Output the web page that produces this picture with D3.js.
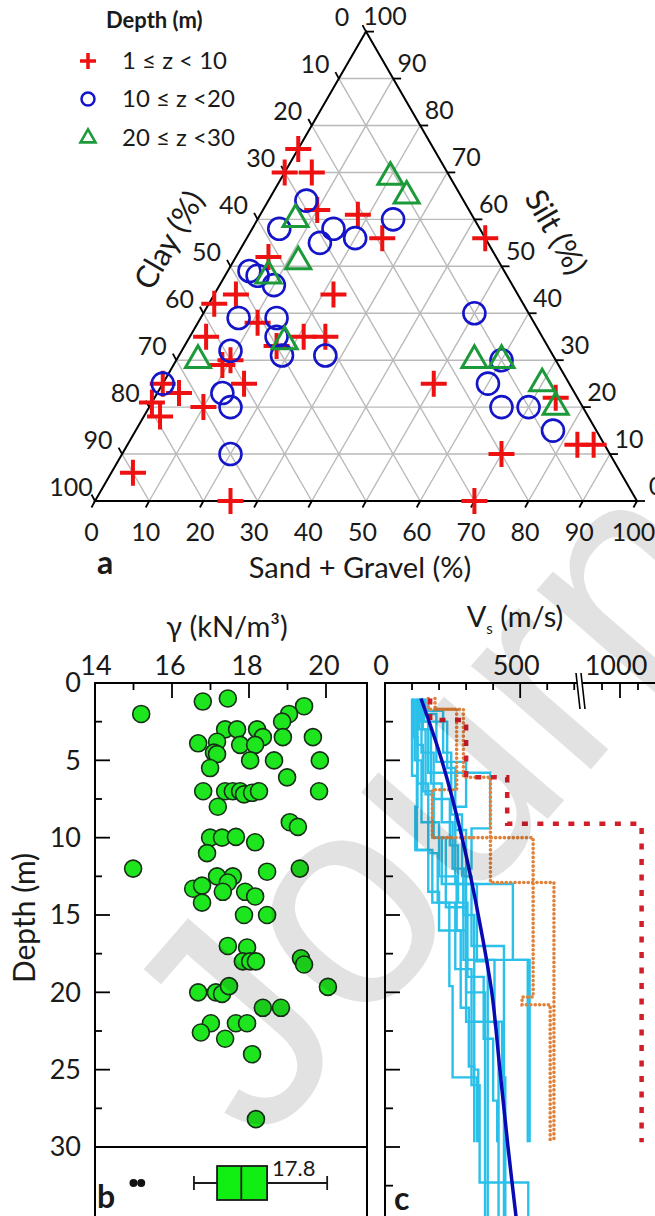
<!DOCTYPE html>
<html>
<head>
<meta charset="utf-8">
<script src="https://cdn.jsdelivr.net/npm/d3@7"></script>
<style>
  body { margin: 0; background: #fff; }
  svg { display: block; }
  text { font-family: Lato, "Open Sans", sans-serif; fill: #1a1a1a; }
</style>
</head>
<body>
<div id="container"></div>
<script>
'use strict'

// ---------- data ----------
// panel a: [sand+gravel, silt, clay] in %
const depthClasses = ['1 \u2264 z < 10', '10 \u2264 z <20', '20 \u2264 z <30'];
const shallowPts = [
  [0,75,25],[0,70,30],[5,70,25],[10,62,28],[18,61,21],[25,56,19],[44,56,0],[6,52,42],
  [22,44,34],[4,44,52],[1,42,57],[11,38,51],[3,35,62],[21,35,44],[25,35,40],[17,33,50],
  [9,29,62],[10,30,60],[15,25,60],[0,25,75],[4,23,73],[0,21,79],[3,18,79],[10,20,70],
  [4,6,90],[25,0,75],[50,25,25],[74,22,4],[70,10,20],[83,12,5],[86,12,2],[70,0,30]
];
const midPts = [
  [7,64,29],[5,58,37],[15,58,27],[14,55,31],[20,56,24],[25,60,15],[4,49,47],[6,48,46],
  [10,46,44],[7,39,54],[14,39,47],[16,35,49],[19,31,50],[9,32,59],[27,31,42],[0,25,75],
  [12,23,65],[15,20,65],[20,10,70],[50,40,10],[60,30,10],[60,25,15],[65,20,15],[70,20,10],[77,15,8]
];
const deepPts = [
  [20,69,11],[25,65,10],[7,60,33],[12,51,37],[8,48,44],[18,34,48],[4,30,66],
  [55,30,15],[60,30,10],[70,25,5],[75,20,5]
];
const ternTicks = [0,10,20,30,40,50,60,70,80,90,100];

// panel b: [unit weight kN/m3, depth m]
const unitWeight = [
  [16.8,1.2],[17.45,1.0],[15.2,2.0],[19.43,1.5],[19.04,2.0],[18.86,2.5],[17.38,3.0],[17.69,3.0],
  [18.21,3.0],[18.36,3.5],[18.88,3.5],[19.66,3.5],[16.68,3.9],[17.17,3.8],[17.77,4.0],[18.16,4.0],
  [17.09,4.5],[17.17,4.6],[18.03,5.0],[18.65,5.0],[19.84,5.0],[16.99,5.5],[18.99,6.1],[16.81,7.0],
  [17.38,7.0],[17.58,7.0],[17.77,7.0],[17.87,7.2],[18.08,7.1],[18.26,7.0],[19.82,7.0],[17.19,8.0],
  [19.06,9.0],[19.27,9.3],[16.99,10.0],[17.3,10.0],[17.66,9.95],[18.16,10.3],[16.91,11.0],[14.99,12.0],
  [19.32,12.0],[18.47,12.2],[17.17,12.5],[17.58,12.5],[16.55,13.3],[16.78,13.1],[17.45,12.9],[17.32,13.5],
  [17.9,13.5],[18.16,13.8],[16.78,14.2],[17.87,15.0],[18.47,15.0],[17.45,17.0],[17.95,17.1],[17.84,18.0],
  [18.03,18.0],[18.18,18.0],[19.35,17.8],[19.43,18.2],[16.68,20.0],[17.14,20.0],[17.3,20.1],[17.48,19.6],
  [20.05,19.65],[18.36,21.0],[18.83,21.0],[17.01,22.0],[16.75,22.6],[17.66,22.0],[17.95,22.0],[17.38,23.0],
  [18.08,24.0],[18.18,28.2]
];
const boxStats = [16.57, 17.17, 17.8, 18.47, 20.03];   // whisker, q1, median, q3, whisker
const boxOutliers = [15.0, 15.2];
const gammaTicks = [15,16,17,18,19,20];
const gammaLabels = [14,16,18,20];
const depthTicks = [0,2.5,5,7.5,10,12.5,15,17.5,20,22.5,25,27.5,30];
const depthLabels = [0,5,10,15,20,25,30];

// panel c: step profiles, each layer [Vs m/s, bottom depth m], top at 1 m
const cyanProfiles = [
  [[105,3.5],[120,8.0],[112,10.8],[175,14.2],[238,19.6],[250,25.5],[340,29.7]],
  [[130,2.5],[160,5.8],[389,9.4],[320,12],[290,17.9],[535,29.7]],
  [[150,2],[190,5.1],[300,8],[260,13],[473,17.9],[528,29.7]],
  [[118,4],[140,7],[175,10],[225,14.5],[300,21.9],[330,25],[345,29.7]],
  [[140,3],[170,6.5],[210,9],[250,12],[290,15],[330,18],[380,32.3],[530,36]],
  [[110,5],[135,9],[200,12.5],[265,16],[300,20],[370,36]],
  [[160,1.8],[215,4.5],[245,8.5],[285,12.5],[320,17],[440,36]],
  [[125,3],[150,7.2],[180,10],[210,13],[300,17.9],[330,21.9],[433,25.5],[445,36]],
  [[100,6],[118,10.8],[160,13.5],[200,16],[280,21],[310,24.8],[330,29.7]],
  [[135,4.5],[180,7.5],[240,10.5],[270,14.2],[305,19],[365,23],[400,27],[415,29.7]],
  [[145,2.5],[230,5.5],[260,9.5],[300,13],[340,17.9],[405,22],[420,36]],
  [[120,6.5],[160,11],[195,14.2],[260,18.5],[320,26],[350,32.3],[380,36]]
];
const orangeProfiles = [
  [[185,1.7],[290,6.1],[390,12.9],[625,29.7]],
  [[160,1.7],[265,6.9],[175,10.0],[548,20.3],[507,20.8],[611,29.7]]
];
const redProfile = [[167,2.4],[300,6.1],[452,9.1],[1120,29.7]];
const vsTrend = [[133,1],[210,5],[285,10],[345,15],[395,20],[425,25],[455,30],[488,35]];
const vsTicks = [100,200,300,400,500,600,700,900,1000,1100];
const vsLabels = [0,500,1000];

// ---------- svg ----------
const W = 655, H = 1216;
const svg = d3.select('#container').append('svg').attr('width', W).attr('height', H);

// ===== a: ternary =====
const side = 542, triH = side * Math.sqrt(3) / 2;
const tx = d3.scaleLinear().domain([0, 100]).range([95, 95 + side]);
const ty = d3.scaleLinear().domain([0, 100]).range([501, 501 - triH]);
const tern = (s, t) => [tx(s + t / 2), ty(t)];

const seg = (g, a, b) => g.append('line').attr('x1', a[0]).attr('y1', a[1]).attr('x2', b[0]).attr('y2', b[1]);

const grid = svg.append('g').attr('stroke', '#b9b9b9').attr('stroke-width', 1.4);
ternTicks.filter(v => v > 0 && v < 100).forEach(v => {
  seg(grid, tern(0, v), tern(100 - v, v));       // silt
  seg(grid, tern(v, 0), tern(v, 100 - v));       // sand
  seg(grid, tern(100 - v, 0), tern(0, 100 - v)); // clay
});

svg.append('path')
   .attr('d', 'M' + [tern(0, 0), tern(100, 0), tern(0, 100)].join('L') + 'Z')
   .attr('fill', 'none').attr('stroke', '#000').attr('stroke-width', 2);

const axT = svg.append('g').attr('stroke', '#000').attr('stroke-width', 1.8);
const axL = svg.append('g').style('font-size', '25px').attr('text-anchor', 'middle');
ternTicks.forEach(v => {
  // bottom: sand + gravel
  let p = tern(v, 0);
  seg(axT, p, [p[0] - 3.5, p[1] + 6.5]);
  axL.append('text').attr('x', p[0] - 3.5).attr('y', p[1] + 31).attr('dy', '0.35em').text(v);
  // left: clay
  p = tern(0, 100 - v);
  seg(axT, p, [p[0] - 3.5, p[1] - 6.5]);
  axL.append('text').attr('x', p[0] - 24).attr('y', p[1] - 14).attr('dy', '0.35em').text(v);
  // right: silt
  p = tern(100 - v, v);
  seg(axT, p, [p[0] + 8, p[1]]);
  axL.append('text').attr('x', p[0] + 19).attr('y', p[1] - 15).attr('dy', '0.35em').text(v);
});

svg.append('text').attr('transform', 'translate(169,240) rotate(-60)')
   .attr('text-anchor', 'middle').attr('dy', '0.35em').style('font-size', '31px').text('Clay (%)');
svg.append('text').attr('transform', 'translate(556,232) rotate(60)')
   .attr('text-anchor', 'middle').attr('dy', '0.35em').style('font-size', '31px').text('Silt (%)');
svg.append('text').attr('x', 360).attr('y', 568).attr('dy', '0.35em')
   .attr('text-anchor', 'middle').style('font-size', '29px').text('Sand + Gravel (%)');
svg.append('text').attr('x', 97).attr('y', 574).style('font-size', '32px').style('font-weight', '700').text('a');

const crossPath = r => `M${-r},0H${r}M0,${-r}V${r}`;
const triPath = a => { const h = a * Math.sqrt(3) / 2; return `M0,${-2 * h / 3}L${a / 2},${h / 3}L${-a / 2},${h / 3}Z`; };

svg.append('g').selectAll('path').data(shallowPts).enter().append('path')
   .attr('transform', d => 'translate(' + tern(d[0], d[1]) + ')')
   .attr('d', crossPath(13)).attr('stroke', '#ee1111').attr('stroke-width', 4).attr('fill', 'none');
svg.append('g').selectAll('circle').data(midPts).enter().append('circle')
   .attr('cx', d => tern(d[0], d[1])[0]).attr('cy', d => tern(d[0], d[1])[1]).attr('r', 11)
   .attr('fill', 'none').attr('stroke', '#1414c8').attr('stroke-width', 2.6);
svg.append('g').selectAll('path').data(deepPts).enter().append('path')
   .attr('transform', d => 'translate(' + tern(d[0], d[1]) + ')')
   .attr('d', triPath(25)).attr('fill', 'none').attr('stroke', '#1c9a3a').attr('stroke-width', 3);

// legend
svg.append('text').attr('x', 106).attr('y', 28).style('font-size', '22px').style('font-weight', '700').text('Depth (m)');
const lg = svg.append('g');
const legY = [61, 99, 138];
lg.append('path').attr('transform', `translate(88,${legY[0]})`).attr('d', crossPath(8))
  .attr('stroke', '#ee1111').attr('stroke-width', 3.5).attr('fill', 'none');
lg.append('circle').attr('cx', 88).attr('cy', legY[1]).attr('r', 6.5)
  .attr('fill', 'none').attr('stroke', '#1414c8').attr('stroke-width', 2.5);
lg.append('path').attr('transform', `translate(88,${legY[2]})`).attr('d', triPath(15))
  .attr('fill', 'none').attr('stroke', '#1c9a3a').attr('stroke-width', 2.6);
depthClasses.forEach((t, i) => {
  lg.append('text').attr('x', 122).attr('y', legY[i]).attr('dy', '0.35em').style('font-size', '24px').text(t);
});

// ===== b: unit weight =====
const gx = d3.scaleLinear().domain([14, 21]).range([95, 364.5]);
const dz = d3.scaleLinear().domain([0, 30]).range([683, 1147]);

svg.append('path').attr('d', `M${gx(14)},${H + 5}V683H367V${H + 5}M${gx(14)},${dz(30)}H367`)
   .attr('fill', 'none').attr('stroke', '#000').attr('stroke-width', 2);

const bt = svg.append('g').attr('stroke', '#000').attr('stroke-width', 1.8);
gammaTicks.forEach(v => {
  const len = v % 2 === 0 ? 15 : 7;
  bt.append('line').attr('x1', gx(v)).attr('x2', gx(v)).attr('y1', 683).attr('y2', 683 + len);
});
depthTicks.filter(v => v > 0 && v < 30).forEach(v => {
  const len = v % 5 === 0 ? 15 : 7;
  bt.append('line').attr('x1', gx(14)).attr('x2', gx(14) + len).attr('y1', dz(v)).attr('y2', dz(v));
});
gammaLabels.forEach(v => {
  svg.append('text').attr('x', gx(v) + (v === 14 ? 1 : -2)).attr('y', 675).attr('text-anchor', 'middle').style('font-size', '27px').text(v);
});
depthLabels.forEach(v => {
  svg.append('text').attr('x', 81).attr('y', dz(v)).attr('dy', '0.35em').attr('text-anchor', 'end').style('font-size', '27px').text(v);
});
svg.append('text').attr('x', 227).attr('y', 637).attr('text-anchor', 'middle').style('font-size', '29px').text('\u03b3 (kN/m\u00b3)');
svg.append('text').attr('transform', 'translate(24,918) rotate(-90)').attr('dy', '0.35em')
   .attr('text-anchor', 'middle').style('font-size', '30px').text('Depth (m)');

svg.append('g').selectAll('circle').data(unitWeight).enter().append('circle')
   .attr('cx', d => gx(d[0])).attr('cy', d => dz(d[1])).attr('r', 8.5)
   .attr('fill', '#1ee61e').attr('stroke', '#163016').attr('stroke-width', 1.6);

// box plot under the scatter
const by = 1183;
const bx = svg.append('g').attr('stroke', '#1a1a1a').attr('stroke-width', 1.8);
bx.append('line').attr('x1', gx(boxStats[0])).attr('x2', gx(boxStats[4])).attr('y1', by).attr('y2', by);
[boxStats[0], boxStats[4]].forEach(v => bx.append('line').attr('x1', gx(v)).attr('x2', gx(v)).attr('y1', by - 7).attr('y2', by + 7));
bx.append('rect').attr('x', gx(boxStats[1])).attr('y', by - 17).attr('width', gx(boxStats[3]) - gx(boxStats[1])).attr('height', 34)
  .attr('fill', '#11ee11');
bx.append('line').attr('x1', gx(boxStats[2])).attr('x2', gx(boxStats[2])).attr('y1', by - 17).attr('y2', by + 17);
svg.append('g').selectAll('circle').data(boxOutliers).enter().append('circle')
   .attr('cx', d => gx(d)).attr('cy', by).attr('r', 4).attr('fill', '#111');
svg.append('text').attr('x', gx(boxStats[3]) + 5).attr('y', 1176).style('font-size', '22px').text(boxStats[2].toFixed(1));
svg.append('text').attr('x', 97).attr('y', 1208).style('font-size', '32px').style('font-weight', '700').text('b');

// ===== c: shear wave velocity =====
const vx = d3.scaleLinear().domain([0, 725, 800, 1200]).range([385, 581, 584, 656]);

svg.append('clipPath').attr('id', 'clipC').append('rect').attr('x', 386).attr('y', 684).attr('width', 300).attr('height', 600);
const pc = svg.append('g').attr('clip-path', 'url(#clipC)');

const stepPts = p => {
  const pts = [];
  let top = 1;
  p.forEach(l => { pts.push([l[0], top], [l[0], l[1]]); top = l[1]; });
  return pts;
};
const stepLine = d3.line().x(d => vx(d[0])).y(d => dz(d[1]));

cyanProfiles.forEach(p => {
  pc.append('path').attr('d', stepLine(stepPts(p))).attr('fill', 'none')
    .attr('stroke', '#2bc0ea').attr('stroke-width', 2.4);
});
orangeProfiles.forEach(p => {
  pc.append('path').attr('d', stepLine(stepPts(p))).attr('fill', 'none')
    .attr('stroke', '#e0823a').attr('stroke-width', 3.6).attr('stroke-linecap', 'round').attr('stroke-dasharray', '0.1,4.3');
});
pc.append('path').attr('d', stepLine(stepPts(redProfile))).attr('fill', 'none')
  .attr('stroke', '#d21e28').attr('stroke-width', 4.5).attr('stroke-dasharray', '6,9.5');
pc.append('path').attr('d', d3.line().x(d => vx(d[0])).y(d => dz(d[1])).curve(d3.curveCatmullRom)(vsTrend))
  .attr('fill', 'none').attr('stroke', '#0a0ab4').attr('stroke-width', 3.5);

svg.append('path').attr('d', `M${vx(0)},${H + 5}V683H${W + 10}`)
   .attr('fill', 'none').attr('stroke', '#000').attr('stroke-width', 2);
const ct = svg.append('g').attr('stroke', '#000').attr('stroke-width', 1.8);
vsTicks.forEach(v => {
  const len = v % 500 === 0 ? 15 : 7;
  ct.append('line').attr('x1', vx(v)).attr('x2', vx(v)).attr('y1', 683).attr('y2', 683 + len);
});
d3.range(2.5, 36, 2.5).forEach(v => {
  const len = v % 5 === 0 ? 15 : 8;
  ct.append('line').attr('x1', vx(0)).attr('x2', vx(0) + len).attr('y1', dz(v)).attr('y2', dz(v));
});
// axis break
svg.append('path').attr('d', 'M576,673L580,709L585,709L581,673Z').attr('fill', '#fff');
svg.append('path').attr('d', 'M576,673L580,709M581,673L585,709').attr('stroke', '#000').attr('stroke-width', 1.6);

vsLabels.forEach(v => {
  svg.append('text').attr('x', vx(v) - 4).attr('y', 675).attr('text-anchor', 'middle').style('font-size', '27px').text(v);
});
const vt = svg.append('text').attr('x', 515).attr('y', 627).attr('text-anchor', 'middle').style('font-size', '29px');
vt.append('tspan').text('V');
vt.append('tspan').attr('dy', 7).style('font-size', '15px').text('s');
vt.append('tspan').attr('dy', -7).text(' (m/s)');
svg.append('text').attr('x', 394).attr('y', 1210).style('font-size', '32px').style('font-weight', '700').text('c');

// page watermark
svg.append('text').attr('transform', 'translate(260,1150) rotate(-49)')
   .style('font-family', '"Liberation Sans", sans-serif').style('font-size', '300px')
   .style('fill', '#000').style('opacity', 0.11).text('Journal Pre-proof');
</script>
</body>
</html>
